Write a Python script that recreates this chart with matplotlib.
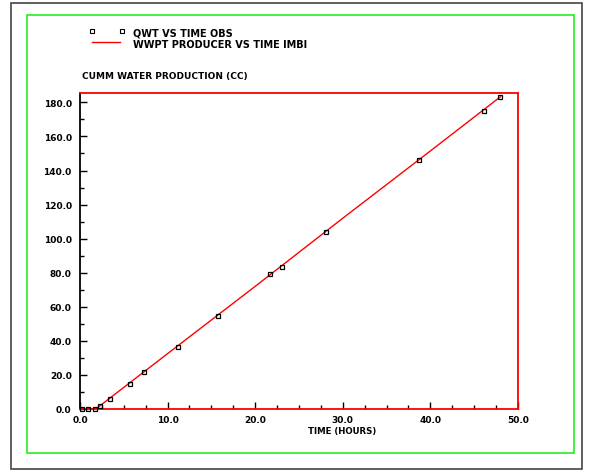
import matplotlib
matplotlib.use("Agg")
import matplotlib.pyplot as plt
from matplotlib.lines import Line2D
from matplotlib.patches import Rectangle
from matplotlib.ticker import MultipleLocator, FormatStrFormatter

# observed cumulative water (squares)
t_obs = [0.2, 0.9, 1.7, 2.3, 3.4, 5.7, 7.3, 11.2, 15.7, 21.7, 23.1, 28.1, 38.7, 46.1, 47.9]
q_obs = [0.0, 0.0, 0.0, 1.8, 5.8, 14.5, 21.6, 36.3, 54.4, 79.0, 83.6, 104.0, 146.0, 175.0, 183.0]

# simulated WWPT (red line)
t_sim = [0.0, 1.5, 2.0, 5.0, 10.0, 20.0, 30.0, 40.0, 48.0]
q_sim = [0.0, 0.0, 0.8, 12.7, 32.5, 72.0, 112.0, 151.5, 183.3]

W, H = 589, 477
fig = plt.figure(figsize=(W / 100, H / 100), dpi=100)
fig.patch.set_facecolor("white")


def fx(px):
    return px / W


def fy(py):
    return 1 - py / H


# frames
fig.add_artist(Rectangle((fx(11), fy(470)), fx(582) - fx(11), fy(4) - fy(470),
                         transform=fig.transFigure, fill=False, ec="#444444", lw=1.2))
fig.add_artist(Rectangle((fx(27), fy(454)), fx(574) - fx(27), fy(16) - fy(454),
                         transform=fig.transFigure, fill=False, ec="#22ee22", lw=1.2))

ax = fig.add_axes([fx(80), fy(410), fx(518) - fx(80), fy(94) - fy(410)])
ax.plot(t_sim, q_sim, color="red", lw=1.0, zorder=3)
ax.plot(t_obs, q_obs, ls="none", marker="s", ms=3.5, mfc="none", mec="black", mew=0.9,
        zorder=4, clip_on=False)

ax.set_xlim(0, 50)
ax.set_ylim(0, 185.5)
ax.xaxis.set_major_locator(MultipleLocator(10))
ax.xaxis.set_minor_locator(MultipleLocator(2.5))
ax.yaxis.set_major_locator(MultipleLocator(20))
ax.yaxis.set_minor_locator(MultipleLocator(10))
ax.xaxis.set_major_formatter(FormatStrFormatter("%.1f"))
ax.yaxis.set_major_formatter(FormatStrFormatter("%.1f"))
ax.tick_params(which="both", direction="in", color="black", width=1.0,
               labelsize=6.5, top=False, right=False)
ax.tick_params(which="major", length=5)
ax.tick_params(which="minor", length=3)
ax.tick_params(axis="x", pad=4)
ax.tick_params(axis="y", pad=6)
for lab in ax.get_xticklabels() + ax.get_yticklabels():
    lab.set_fontweight("bold")

for side in ["top", "right", "bottom"]:
    ax.spines[side].set_color("red")
    ax.spines[side].set_linewidth(1.3)
ax.spines["left"].set_color("black")
ax.spines["left"].set_linewidth(1.3)

fig.text(fx(82), fy(77), "CUMM WATER PRODUCTION (CC)", fontsize=6.5, fontweight="bold",
         ha="left", va="center")
fig.text(fx(342), fy(432), "TIME (HOURS)", fontsize=6.2, fontweight="bold",
         ha="center", va="center")

# legend drawn by hand
fig.add_artist(Line2D([fx(92), fx(122)], [fy(32), fy(32)], transform=fig.transFigure,
                      ls="none", marker="s", ms=3, mfc="none", mec="black", mew=0.8))
fig.text(fx(133), fy(33), "QWT VS TIME OBS", fontsize=7, fontweight="bold",
         ha="left", va="center")
fig.add_artist(Line2D([fx(92), fx(120)], [fy(43), fy(43)], transform=fig.transFigure,
                      color="red", lw=1.0))
fig.text(fx(133), fy(45), "WWPT PRODUCER VS TIME IMBI", fontsize=7, fontweight="bold",
         ha="left", va="center")

fig.savefig("out.png", dpi=100)
